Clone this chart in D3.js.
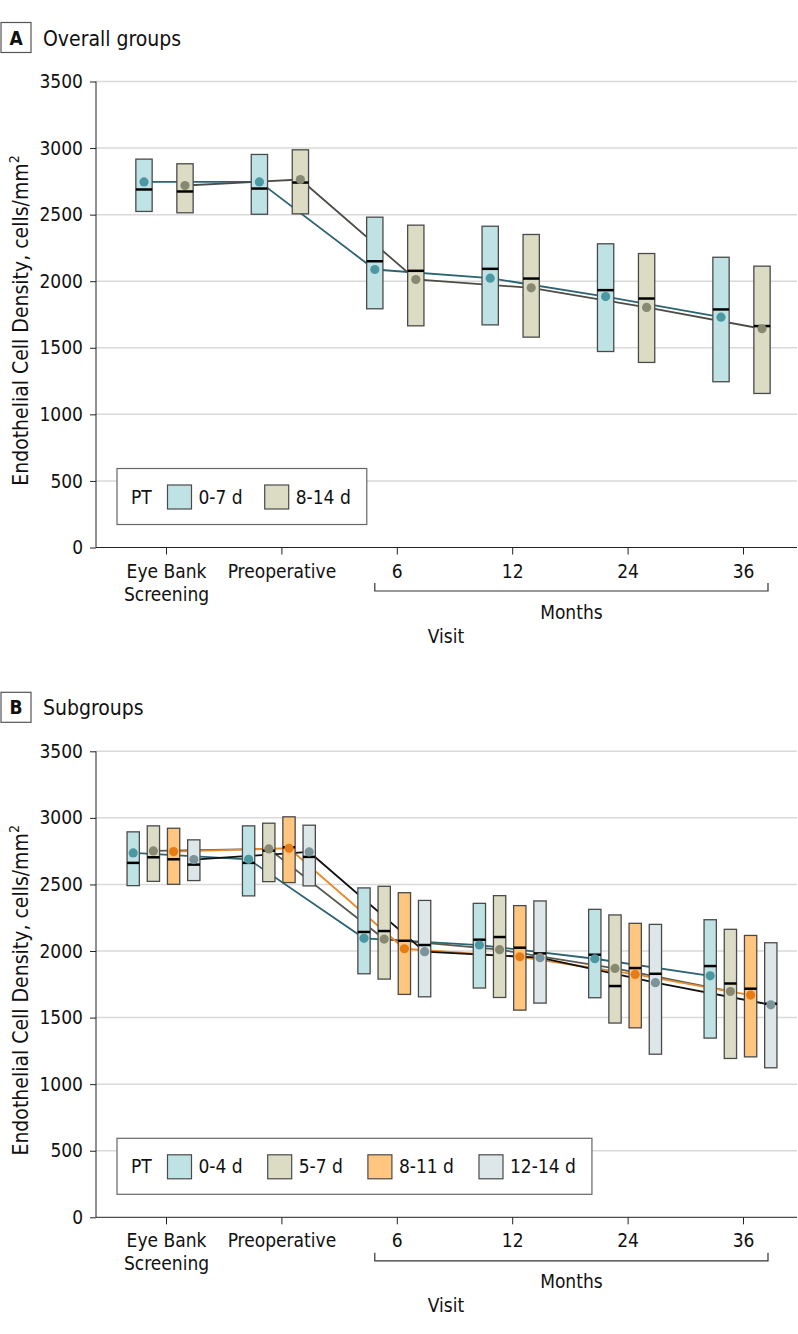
<!DOCTYPE html>
<html>
<head>
<meta charset="utf-8">
<script src="https://cdn.jsdelivr.net/npm/d3@7"></script>
<style>
  body { margin: 0; background: #fff; }
  svg text { font-family: "DejaVu Sans Condensed", "DejaVu Sans", sans-serif; font-stretch: condensed; fill: #111; }
</style>
</head>
<body>
<div id="chart"></div>
<script>
// visits on the x axis
var visits = ["Eye Bank Screening", "Preoperative", "6", "12", "24", "36"];
var yTicks = [0, 500, 1000, 1500, 2000, 2500, 3000, 3500];

// panel A: overall groups
var groupsA = ["0-7 d", "8-14 d"];
var upperA = [[2917, 2952, 2481, 2413, 2281, 2180], [2882, 2987, 2421, 2351, 2208, 2113]];
var lowerA = [[2524, 2503, 1793, 1672, 1472, 1245], [2514, 2506, 1665, 1580, 1390, 1157]];
var meanA = [[2746, 2746, 2088, 2023, 1885, 1730], [2719, 2764, 2013, 1950, 1803, 1643]];
var medianA = [[2689, 2696, 2150, 2093, 1933, 1788], [2674, 2741, 2078, 2020, 1870, 1663]];

// panel B: subgroups
var groupsB = ["0-4 d", "5-7 d", "8-11 d", "12-14 d"];
var upperB = [[2895, 2940, 2474, 2358, 2313, 2235], [2940, 2960, 2486, 2416, 2271, 2163],
              [2922, 3008, 2438, 2341, 2208, 2117], [2835, 2945, 2380, 2376, 2200, 2062]];
var lowerB = [[2491, 2414, 1829, 1722, 1649, 1346], [2523, 2521, 1789, 1651, 1459, 1193],
              [2501, 2514, 1674, 1556, 1423, 1205], [2529, 2489, 1656, 1609, 1225, 1123]];
var meanB = [[2737, 2689, 2095, 2045, 1942, 1814], [2752, 2767, 2090, 2010, 1869, 1696],
             [2747, 2772, 2017, 1957, 1824, 1669], [2687, 2744, 1995, 1950, 1762, 1596]];
var medianB = [[2662, 2662, 2143, 2085, 1972, 1887], [2704, 2754, 2150, 2105, 1737, 1756],
               [2689, 2779, 2077, 2025, 1872, 1717], [2649, 2707, 2045, 1982, 1829, 1604]];

var svg = d3.select("#chart").append("svg")
    .attr("width", 798)
    .attr("height", 1334);

var x = d3.scalePoint().domain(visits).range([166, 743]);

function drawPanel(p) {
  var g = svg.append("g");
  var y = d3.scaleLinear().domain([0, 3500]).range([p.y0, p.y0 - 466]);
  var off = d3.scaleBand().domain(p.groups).range(p.offRange);
  var cx = function (gi, vi) { return x(visits[vi]) + off(p.groups[gi]) + off.bandwidth() / 2; };

  // panel letter and title
  g.append("rect").attr("x", 1).attr("y", p.y0 - 525).attr("width", 30).attr("height", 30)
      .attr("fill", "none").attr("stroke", "#555").attr("stroke-width", 1.2);
  g.append("text").attr("x", 16).attr("y", p.y0 - 503).attr("text-anchor", "middle")
      .attr("font-size", 19).attr("font-weight", "bold").text(p.letter);
  g.append("text").attr("x", 43).attr("y", p.y0 - 502).attr("font-size", 21).text(p.title);

  // gridlines
  g.selectAll(".grid").data(yTicks.slice(1)).enter().append("line")
      .attr("x1", 96).attr("x2", 797)
      .attr("y1", function (d) { return y(d); }).attr("y2", function (d) { return y(d); })
      .attr("stroke", "#d9d9d9").attr("stroke-width", 1.5);

  // y axis
  var ya = g.append("g").attr("transform", "translate(96,0)")
      .call(d3.axisLeft(y).tickValues(yTicks).tickSize(6).tickPadding(7).tickFormat(d3.format("d")));
  ya.select(".domain").attr("stroke", "#222").attr("d", "M0," + y(3500) + "V" + y(0));
  ya.selectAll(".tick line").attr("stroke", "#222");
  ya.selectAll("text").attr("font-size", 19).attr("fill", "#111").style("font-family", null);

  var yl = g.append("text").attr("transform", "translate(28," + (y(1750) + 6) + ") rotate(-90)")
      .attr("text-anchor", "middle").attr("font-size", 21);
  yl.append("tspan").text("Endothelial Cell Density, cells/mm");
  yl.append("tspan").attr("font-size", 14).attr("dy", -9).text("2");

  // x axis
  var xa = g.append("g").attr("transform", "translate(0," + p.y0 + ")")
      .call(d3.axisBottom(x).tickSize(7).tickFormat(""));
  xa.select(".domain").attr("stroke", "#222").attr("d", "M96,0H797");
  xa.selectAll(".tick line").attr("stroke", "#222");
  xa.selectAll(".tick").each(function (d) {
    var t = d3.select(this).append("text").attr("text-anchor", "middle").attr("font-size", 19)
        .attr("fill", "#111").attr("y", 30);
    if (d === "Eye Bank Screening") {
      t.append("tspan").attr("x", 0).text("Eye Bank");
      t.append("tspan").attr("x", 0).attr("dy", 23).text("Screening");
    } else {
      t.text(d);
    }
  });

  // months bracket
  var bx0 = x("6") - 22, bx1 = x("36") + 25, by = p.y0 + 43.5;
  g.append("path").attr("d", "M" + bx0 + "," + (by - 8) + "V" + by + "H" + bx1 + "V" + (by - 8))
      .attr("fill", "none").attr("stroke", "#333").attr("stroke-width", 1.2);
  g.append("text").attr("x", (bx0 + bx1) / 2).attr("y", p.y0 + 71).attr("text-anchor", "middle")
      .attr("font-size", 19).text("Months");
  g.append("text").attr("x", 446).attr("y", p.y0 + 95).attr("text-anchor", "middle")
      .attr("font-size", 19).text("Visit");

  // mean lines (behind boxes)
  var line = d3.line().x(function (d) { return d[0]; }).y(function (d) { return d[1]; });
  p.groups.forEach(function (grp, gi) {
    var pts = visits.map(function (v, vi) { return [cx(gi, vi), y(p.mean[gi][vi])]; });
    g.append("path").attr("d", line(pts)).attr("fill", "none")
        .attr("stroke", p.lineColors[gi]).attr("stroke-width", 1.8);
  });

  // boxes
  var bw = p.boxW;
  p.groups.forEach(function (grp, gi) {
    var bg = g.append("g");
    bg.selectAll("rect").data(visits).enter().append("rect")
        .attr("x", function (v, vi) { return cx(gi, vi) - bw / 2; })
        .attr("y", function (v, vi) { return y(p.upper[gi][vi]); })
        .attr("width", bw)
        .attr("height", function (v, vi) { return y(p.lower[gi][vi]) - y(p.upper[gi][vi]); })
        .attr("fill", p.fills[gi]).attr("stroke", "#4a4a4a").attr("stroke-width", 1.3);
    bg.selectAll("line").data(visits).enter().append("line")
        .attr("x1", function (v, vi) { return cx(gi, vi) - bw / 2; })
        .attr("x2", function (v, vi) { return cx(gi, vi) + bw / 2; })
        .attr("y1", function (v, vi) { return y(p.median[gi][vi]); })
        .attr("y2", function (v, vi) { return y(p.median[gi][vi]); })
        .attr("stroke", "#000").attr("stroke-width", 2.5);
    bg.selectAll("circle").data(visits).enter().append("circle")
        .attr("cx", function (v, vi) { return cx(gi, vi); })
        .attr("cy", function (v, vi) { return y(p.mean[gi][vi]); })
        .attr("r", 4.6).attr("fill", p.dots[gi]);
  });

  // legend
  var ly = p.y0 - 79;
  var lg = g.append("g");
  var lbox = lg.append("rect").attr("x", 117).attr("y", ly).attr("height", 56)
      .attr("fill", "#fff").attr("stroke", "#666").attr("stroke-width", 1.2);
  lg.append("text").attr("x", 131).attr("y", ly + 35).attr("font-size", 19).text("PT");
  var lx = 167.5;
  p.groups.forEach(function (grp, gi) {
    lg.append("rect").attr("x", lx).attr("y", ly + 16.5).attr("width", 24).attr("height", 24)
        .attr("fill", p.fills[gi]).attr("stroke", "#4a4a4a").attr("stroke-width", 1.2);
    var t = lg.append("text").attr("x", lx + 31).attr("y", ly + 35).attr("font-size", 19).text(grp);
    lx = lx + 31 + t.node().getComputedTextLength() + p.legendGap;
  });
  lbox.attr("width", lx - p.legendGap + 16 - 117);
}

drawPanel({
  letter: "A", title: "Overall groups", y0: 547.5, groups: groupsA,
  upper: upperA, lower: lowerA, mean: meanA, median: medianA,
  offRange: [-42.5, 39.5], boxW: 16.3, legendGap: 22,
  fills: ["#bfe3e5", "#dcdcc5"], dots: ["#4b98a3", "#878a70"], lineColors: ["#2c6474", "#4d4d47"]
});

drawPanel({
  letter: "B", title: "Subgroups", y0: 1217.3, groups: groupsB,
  upper: upperB, lower: lowerB, mean: meanB, median: medianB,
  offRange: [-42.9, 37.9], boxW: 12.3, legendGap: 25,
  fills: ["#bfe3e5", "#dcdcc5", "#fec67f", "#dde6e8"],
  dots: ["#4b98a3", "#878a70", "#e67c13", "#7c939a"],
  lineColors: ["#2c6474", "#5a5a52", "#ea8a2e", "#111111"]
});
</script>
</body>
</html>
